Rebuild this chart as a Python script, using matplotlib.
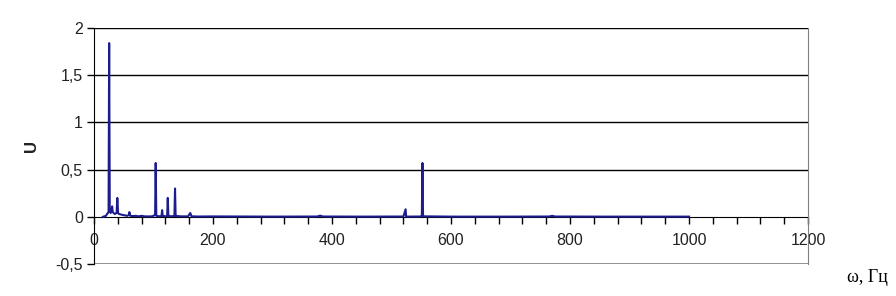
import matplotlib.pyplot as plt
from matplotlib.ticker import MultipleLocator, FixedLocator

# spectrum (frequency, amplitude)
freq = [15, 20, 22, 24.5, 25.5, 26.5, 28, 29.5, 30.5, 31.5, 33, 35, 38, 39.2, 40.5,
        42, 45, 48, 52, 56, 58.5, 59.5, 61, 66, 70, 75, 80, 85, 90, 98, 102.7,
        103.7, 104.7, 110, 113.5, 114.5, 115.5, 120, 123, 124, 125, 130, 135.2,
        136.2, 137.2, 145, 158, 161.8, 164, 175, 200, 250, 300, 375, 380, 385,
        450, 520, 523.7, 524.5, 525.5, 548, 551, 552, 553, 600, 700, 765, 770,
        775, 850, 1000]
amp = [0.0, 0.01, 0.03, 0.05, 1.84, 0.08, 0.04, 0.06, 0.11, 0.05, 0.04, 0.03, 0.04,
       0.2, 0.04, 0.03, 0.025, 0.02, 0.015, 0.01, 0.02, 0.05, 0.01, 0.008, 0.01,
       0.005, 0.01, 0.005, 0.004, 0.005, 0.02, 0.57, 0.01, 0.005, 0.01, 0.07,
       0.01, 0.005, 0.01, 0.2, 0.01, 0.005, 0.01, 0.3, 0.01, 0.005, 0.004, 0.04,
       0.005, 0.003, 0.004, 0.003, 0.002, 0.003, 0.012, 0.003, 0.002, 0.003,
       0.08, 0.004, 0.002, 0.003, 0.01, 0.57, 0.005, 0.002, 0.002, 0.003, 0.01,
       0.003, 0.002, 0.002]

y_ticks = [-0.5, 0, 0.5, 1, 1.5, 2]
y_labels = ["-0,5", "0", "0,5", "1", "1,5", "2"]
x_ticks = [0, 200, 400, 600, 800, 1000, 1200]

plt.rcParams['font.family'] = ['Liberation Sans', 'DejaVu Sans']

fig = plt.figure(figsize=(8.96, 2.96), dpi=100)
ax = fig.add_axes([0.1049, 0.1081, 0.7969, 0.7973])

for y in [0.5, 1, 1.5, 2]:
    ax.axhline(y, color='black', linewidth=1.0, zorder=1)
ax.axhline(-0.5, color='#808080', linewidth=1.2, zorder=1)

ax.plot(freq, amp, color='#1c1c8e', linewidth=1.5, zorder=3)

ax.set_xlim(0, 1200)
ax.set_ylim(-0.5, 2)

ax.spines['bottom'].set_position(('data', 0))
ax.spines['bottom'].set_color('black')
ax.spines['bottom'].set_zorder(2)
ax.spines['top'].set_visible(False)
ax.spines['right'].set_color('#808080')
ax.spines['left'].set_color('black')

ax.xaxis.set_major_locator(FixedLocator(x_ticks))
ax.xaxis.set_minor_locator(MultipleLocator(40))
ax.set_xticklabels([str(v) for v in x_ticks])
ax.tick_params(axis='x', which='both', direction='out', length=5, width=1,
               color='black', labelsize=11.5, labelcolor='#222222', pad=7)
ax.set_yticks(y_ticks)
ax.set_yticklabels(y_labels)
ax.tick_params(axis='y', direction='out', length=5, width=1, color='black',
               labelsize=11.5, labelcolor='#222222', pad=3)

ax.set_ylabel("U", fontsize=12, fontweight='bold', labelpad=12, color='#222222')

fig.text(0.968, 0.035, "ω, Гц", fontsize=13, ha='center', va='bottom',
         family=['Liberation Serif', 'DejaVu Serif'])

fig.savefig("out.png", dpi=100)
